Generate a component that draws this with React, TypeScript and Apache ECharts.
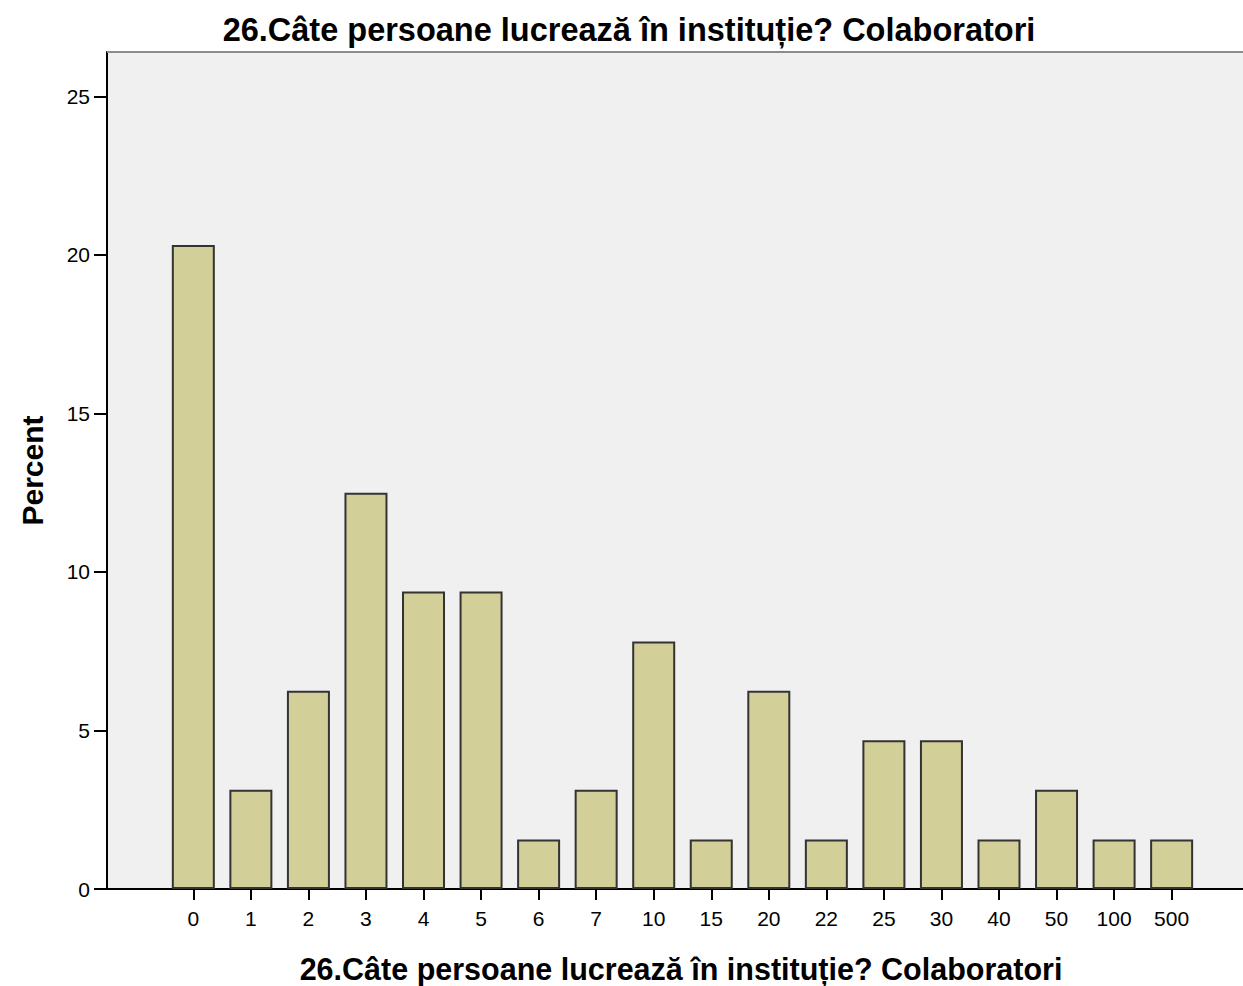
import React, { useEffect, useRef } from "react";
import * as echarts from "echarts";

const categories = ["0", "1", "2", "3", "4", "5", "6", "7", "10", "15", "20", "22", "25", "30", "40", "50", "100", "500"];
const percents = [20.31, 3.13, 6.25, 12.5, 9.38, 9.38, 1.56, 3.13, 7.81, 1.56, 6.25, 1.56, 4.69, 4.69, 1.56, 3.13, 1.56, 1.56];
const yTicks = [0, 5, 10, 15, 20, 25];
const titleText = "26.Câte persoane lucrează în instituție? Colaboratori";
const xName = "26.Câte persoane lucrează în instituție? Colaboratori";
const yName = "Percent";

const FONT = "'Liberation Sans', Arial, sans-serif";

export default function App() {
  const ref = useRef<HTMLDivElement>(null);
  useEffect(() => {
    if (!ref.current) return;
    const chart = echarts.init(ref.current, null, { renderer: "svg" });
    const idx = categories.map((_, i) => i);
    chart.setOption({
      animation: false,
      backgroundColor: "#ffffff",
      title: {
        text: titleText,
        left: 624,
        textAlign: "center",
        top: 8,
        textStyle: { fontFamily: FONT, fontWeight: "bold", fontSize: 32.5, color: "#000" },
      },
      grid: {
        left: 107,
        right: 0,
        top: 52,
        bottom: 986 - 889,
        outerBoundsMode: "none",
        containLabel: false,
        show: true,
        backgroundColor: "#f0f0f0",
        borderWidth: 0,
      },
      graphic: [
        {
          type: "line",
          shape: { x1: 107, y1: 52, x2: 1243, y2: 52 },
          style: { stroke: "#8c8c8c", lineWidth: 2 },
          z: 10,
        },
      ],
      xAxis: {
        type: "value",
        min: -1.5,
        max: 18.24,
        name: xName,
        nameLocation: "middle",
        nameGap: 64,
        nameTextStyle: { fontFamily: FONT, fontWeight: "bold", fontSize: 30.5, color: "#000", padding: [0, 0, 0, 12] },
        axisLine: { show: true, onZero: false, lineStyle: { color: "#000", width: 2 } },
        axisTick: { show: true, length: 11, customValues: idx, lineStyle: { color: "#000", width: 2 } },
        axisLabel: {
          customValues: idx,
          formatter: (v: number) => categories[Math.round(v)] ?? "",
          fontFamily: FONT,
          fontSize: 21,
          color: "#000",
          margin: 19,
        },
        splitLine: { show: false },
      },
      yAxis: {
        type: "value",
        min: 0,
        max: 26.4,
        name: yName,
        nameLocation: "middle",
        nameGap: 60,
        nameRotate: 90,
        nameTextStyle: { fontFamily: FONT, fontWeight: "bold", fontSize: 30, color: "#000" },
        axisLine: { show: true, onZero: false, lineStyle: { color: "#000", width: 2 } },
        axisTick: { show: true, length: 13, customValues: yTicks, lineStyle: { color: "#000", width: 2 } },
        axisLabel: {
          customValues: yTicks,
          fontFamily: FONT,
          fontSize: 21,
          color: "#000",
          margin: 17,
        },
        splitLine: { show: false },
      },
      series: [
        {
          type: "bar",
          data: percents.map((v, i) => [i, v]),
          barWidth: 43,
          itemStyle: { color: "#d3cf98", borderColor: "#333333", borderWidth: 2 },
        },
      ],
    });
    return () => chart.dispose();
  }, []);
  return <div ref={ref} style={{ position: "fixed", left: 0, top: 0, width: 1243, height: 986 }} />;
}
